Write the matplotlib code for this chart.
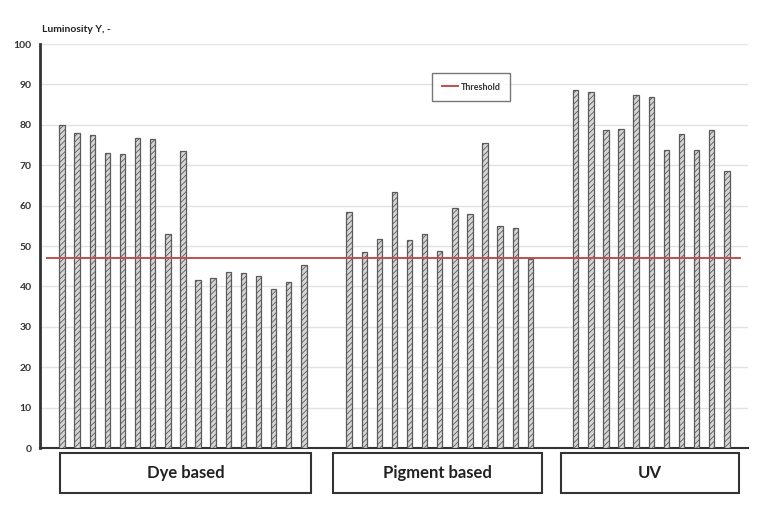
import matplotlib
matplotlib.use("Agg")
import matplotlib.pyplot as plt
from matplotlib.patches import Rectangle
import numpy as np

plt.rcParams["font.family"] = ["Lato", "DejaVu Sans"]
plt.rcParams["hatch.linewidth"] = 0.6

groups = ["Dye based", "Pigment based", "UV"]
dye = [80, 78, 77.5, 73, 72.8, 76.7, 76.4, 53, 73.5, 41.5, 42, 43.5, 43.3, 42.5, 39.3, 41.2, 45.3]
pigment = [58.5, 48.5, 51.8, 63.3, 51.4, 53, 48.7, 59.3, 58, 75.5, 55, 54.4, 46.8]
uv = [88.7, 88.1, 78.7, 78.9, 87.3, 87, 73.7, 77.8, 73.7, 78.8, 68.5]
threshold = 47
y_label = "Luminosity Y, -"

# slot positions, with two empty slots between groups
gap = 2
x_dye = np.arange(len(dye))
x_pig = np.arange(len(pigment)) + x_dye[-1] + 1 + gap
x_uv = np.arange(len(uv)) + x_pig[-1] + 1 + gap

fig = plt.figure(figsize=(7.68, 5.16), dpi=100)
ax = fig.add_axes([40 / 768, 1 - 448 / 516, 708 / 768, 404 / 516])

bar_style = dict(width=0.36, facecolor="#d6d6d6", edgecolor="#5a5a5a",
                 hatch="//////", linewidth=0.9, zorder=3)
for xs, vals in [(x_dye, dye), (x_pig, pigment), (x_uv, uv)]:
    ax.bar(xs, vals, **bar_style)

ax.plot([-1.0, 44.9], [threshold, threshold], color="#c0504d", lw=1.4,
        zorder=4, label="Threshold")

ax.set_xlim(-1.46, 45.4)
ax.set_ylim(0, 100)
ax.set_yticks(np.arange(0, 101, 10))
ax.set_xticks([])
ax.tick_params(axis="y", length=0, labelsize=7.5, pad=6)
for lab in ax.get_yticklabels():
    lab.set_fontweight("bold")
    lab.set_color("#333333")
ax.yaxis.grid(True, color="#e2e2e2", lw=1.0, zorder=0)
ax.set_axisbelow(True)
for side in ["top", "right"]:
    ax.spines[side].set_visible(False)
ax.spines["left"].set_linewidth(2.0)
ax.spines["left"].set_color("#333333")
ax.spines["bottom"].set_linewidth(1.5)
ax.spines["bottom"].set_color("#333333")

fig.text(42 / 768, 1 - 30 / 516, y_label, fontsize=7.5, fontweight="bold",
         color="#222222", va="center", ha="left")

leg = ax.legend(loc="center", bbox_to_anchor=(471 / 768, 1 - 87 / 516),
                bbox_transform=fig.transFigure, fontsize=6.5, frameon=True,
                fancybox=False, edgecolor="#555555", handlelength=1.8,
                borderpad=1.0, handletextpad=0.3)
leg.get_frame().set_linewidth(1.0)
for t in leg.get_texts():
    t.set_fontweight("bold")
    t.set_color("#333333")

# group label boxes under the axis (pixel extents)
boxes = [(60, 311), (333, 542), (561, 739)]
for (x0, x1), name in zip(boxes, groups):
    fx0, fx1 = x0 / 768, x1 / 768
    fy0, fy1 = 1 - 493 / 516, 1 - 453 / 516
    fig.add_artist(Rectangle((fx0, fy0), fx1 - fx0, fy1 - fy0,
                             transform=fig.transFigure, facecolor="white",
                             edgecolor="#333333", lw=1.5))
    fig.text((fx0 + fx1) / 2, (fy0 + fy1) / 2, name, fontsize=12,
             fontweight="bold", ha="center", va="center", color="#222222")

fig.savefig("out.png", dpi=100)
